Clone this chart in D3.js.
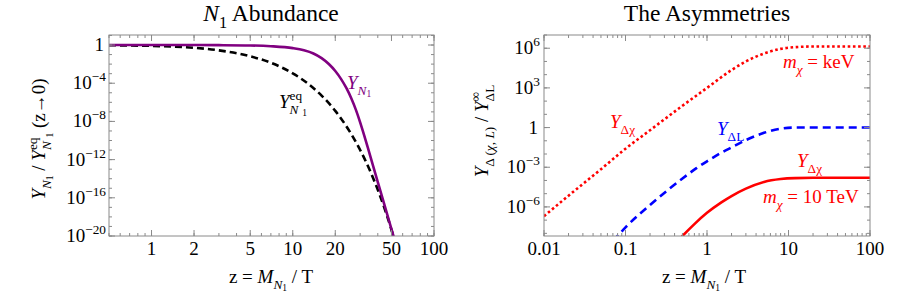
<!DOCTYPE html>
<html>
<head>
<meta charset="utf-8">
<script src="https://cdn.jsdelivr.net/npm/d3@7"></script>
<style>
  body { margin: 0; background: #fff; }
  text { font-family: "Liberation Serif", "Times New Roman", serif; white-space: pre; }
</style>
</head>
<body>
<svg id="chart" width="913" height="292"></svg>
<script>
// ---- left panel data: N1 abundance ----
var zAbund = [0.5, 1, 2, 3, 5, 7, 10, 12, 14, 16, 18, 20, 22, 24, 26, 28, 30, 32, 34, 37, 40, 44, 48, 52, 55];
var yN1 = [1, 1, 0.99, 0.97, 0.9, 0.75, 0.47, 0.28, 0.13, 0.042, 0.0102, 1.9e-3, 2.7e-4, 3e-5, 2.5e-6,
           1.6e-7, 8e-9, 3.7e-10, 1.8e-11, 2.4e-13, 4.5e-15, 3.5e-17, 4.2e-19, 7e-21, 4e-22];
var zEq = [0.5, 1, 2, 3, 5, 7, 10, 13, 16, 20, 25, 30, 35, 40, 45, 50, 55];
var yEq = [0.944, 0.812, 0.508, 0.277, 0.0664, 0.0138, 1.08e-3, 7.7e-5, 5.1e-6, 1.27e-7, 1.17e-9,
           1.02e-11, 8.6e-14, 7.1e-16, 5.6e-18, 4.4e-20, 3.4e-22];
var leftXTicks = [1, 2, 5, 10, 20, 50, 100];
var leftYTicks = [0, -4, -8, -12, -16, -20];   // powers of ten

// ---- right panel data: asymmetries (log10 values) ----
var zKeV = [0.01, 0.02, 0.05, 0.1, 0.2, 0.5, 1, 2, 3, 5, 8, 12, 20, 100];
var logKeV = [-6.7, -5.15, -3.15, -1.6, -0.2, 1.65, 3.0, 4.35, 5.0, 5.6, 5.95, 6.08, 6.13, 6.13];
var zDL = [0.07, 0.1, 0.2, 0.35, 0.5, 0.75, 1, 1.5, 2, 3, 5, 8, 12, 100];
var logDL = [-8.6, -7.55, -5.85, -4.6, -3.85, -3.05, -2.55, -1.9, -1.5, -0.95, -0.4, -0.08, 0, 0];
var zTeV = [0.45, 0.5, 0.7, 1, 1.5, 2, 3, 5, 8, 12, 20, 100];
var logTeV = [-8.5, -8.2, -7.3, -6.45, -5.66, -5.18, -4.62, -4.11, -3.89, -3.82, -3.8, -3.8];
var rightXTicks = [0.01, 0.1, 1, 10, 100];
var rightXLabels = ["0.01", "0.1", "1", "10", "100"];
var rightYTicks = [6, 3, 0, -3, -6];

var svg = d3.select("#chart");
var frameCol = "#8a8a8a";
var fs = 19;

// rich text: pieces laid out one after another, sub/sup shifted
function rich(g, x, y, pieces, opt) {
  opt = opt || {};
  var size = opt.size || fs;
  var grp = g.append("g").attr("fill", opt.color || "#000");
  var cx = 0, lastX = 0;
  pieces.forEach(function(p) {
    var sz = size, dy = 0;
    if (p.s === "sub") { sz = size * 0.7; dy = size * 0.3; }
    if (p.s === "sup") { sz = size * 0.7; dy = -size * 0.42; }
    if (p.s === "sub2") { sz = size * 0.5; dy = size * 0.4; }
    var px = p.st ? lastX : cx;
    var t = grp.append("text")
      .attr("x", px).attr("y", dy)
      .attr("font-size", sz)
      .attr("font-style", p.i ? "italic" : "normal")
      .text(p.t);
    var w = t.node().getComputedTextLength();
    lastX = px;
    cx = Math.max(cx, px + w);
  });
  var shift = opt.anchor === "middle" ? -cx / 2 : opt.anchor === "end" ? -cx : 0;
  grp.selectAll("text").attr("x", function() { return +d3.select(this).attr("x") + shift; });
  grp.attr("transform", "translate(" + x + "," + y + ")" + (opt.rotate ? " rotate(" + opt.rotate + ")" : ""));
  return grp;
}

function minorTicks(lo, hi) {
  var out = [];
  for (var e = Math.floor(Math.log10(lo)); e <= Math.ceil(Math.log10(hi)); e++) {
    for (var k = 1; k < 10; k++) {
      var v = k * Math.pow(10, e);
      if (v >= lo * 0.999 && v <= hi * 1.001) out.push(v);
    }
  }
  return out;
}

function frame(g, x, y) {
  var r = x.range(), h = y.range();
  g.append("rect")
    .attr("x", r[0]).attr("y", h[1])
    .attr("width", r[1] - r[0]).attr("height", h[0] - h[1])
    .attr("fill", "none").attr("stroke", frameCol).attr("stroke-width", 1);
}

function xTicks(g, x, y, major, minor) {
  var h = y.range();
  var all = minor.map(function(v) { return {v: v, len: 3}; })
    .concat(major.map(function(v) { return {v: v, len: 6}; }));
  all.forEach(function(t) {
    var px = x(t.v);
    g.append("line").attr("x1", px).attr("x2", px).attr("y1", h[0]).attr("y2", h[0] - t.len)
      .attr("stroke", frameCol);
    g.append("line").attr("x1", px).attr("x2", px).attr("y1", h[1]).attr("y2", h[1] + t.len)
      .attr("stroke", frameCol);
  });
}

function yTicks(g, x, y, major, minor) {
  var r = x.range();
  var all = minor.map(function(v) { return {v: v, len: 3}; })
    .concat(major.map(function(v) { return {v: v, len: 6}; }));
  all.forEach(function(t) {
    var py = y(t.v);
    g.append("line").attr("y1", py).attr("y2", py).attr("x1", r[0]).attr("x2", r[0] + t.len)
      .attr("stroke", frameCol);
    g.append("line").attr("y1", py).attr("y2", py).attr("x1", r[1]).attr("x2", r[1] - t.len)
      .attr("stroke", frameCol);
  });
}

function powLabel(g, px, py, e) {
  if (e === 0) {
    g.append("text").attr("x", px - 2).attr("y", py).attr("text-anchor", "end")
      .attr("font-size", fs).text("1");
  } else {
    rich(g, px, py, [{t: "10"}, {t: e < 0 ? "\u2212" + (-e) : String(e), s: "sup"}], {anchor: "end"});
  }
}

var xLabel = [{t: "z = "}, {t: "M", i: true}, {t: "N", i: true, s: "sub"}, {t: "1", s: "sub2"}, {t: " / T"}];

// ================= left panel =================
var xL = d3.scaleLog().domain([0.5, 100]).range([109, 434]);
var yL = d3.scaleLog().domain([1e-20, Math.pow(10, 1.05)]).range([236, 35]);
var gL = svg.append("g");

gL.append("clipPath").attr("id", "clipL").append("rect")
  .attr("x", 109).attr("y", 35).attr("width", 325).attr("height", 201);

var lineL = d3.line().curve(d3.curveMonotoneX)
  .x(function(d) { return xL(d[0]); }).y(function(d) { return yL(d[1]); });

gL.append("path").datum(d3.zip(zEq, yEq))
  .attr("d", lineL).attr("fill", "none").attr("stroke", "#000")
  .attr("stroke-width", 2.6).attr("stroke-dasharray", "7,4")
  .attr("clip-path", "url(#clipL)");
gL.append("path").datum(d3.zip(zAbund, yN1))
  .attr("d", lineL).attr("fill", "none").attr("stroke", "#800080")
  .attr("stroke-width", 2.6).attr("clip-path", "url(#clipL)");

frame(gL, xL, yL);
var yMinorL = d3.range(-20, 2).map(function(e) { return Math.pow(10, e); });
xTicks(gL, xL, yL, leftXTicks, minorTicks(0.5, 100));
yTicks(gL, xL, yL, leftYTicks.map(function(e) { return Math.pow(10, e); }), yMinorL);

leftXTicks.forEach(function(v) {
  gL.append("text").attr("x", xL(v)).attr("y", 255).attr("text-anchor", "middle")
    .attr("font-size", fs).text(v);
});
leftYTicks.forEach(function(e) { powLabel(gL, 106, yL(Math.pow(10, e)) + 6, e); });

rich(gL, 271, 21, [{t: "N", i: true}, {t: "1", s: "sub"}, {t: " Abundance"}], {anchor: "middle", size: 23.5});
rich(gL, 271, 283, xLabel, {anchor: "middle"});
rich(gL, 45, 139, [{t: "Y", i: true}, {t: "N", i: true, s: "sub"}, {t: "1", s: "sub2"}, {t: " / "}, {t: "Y", i: true},
  {t: "eq", s: "sup"}, {t: "N", i: true, s: "sub", st: true}, {t: "1", s: "sub2"}, {t: " (z\u21920)"}], {anchor: "middle", rotate: -90});

rich(gL, 347, 89, [{t: "Y", i: true}, {t: "N", i: true, s: "sub"}, {t: "1", s: "sub2"}], {color: "#800080"});
rich(gL, 279, 108, [{t: "Y", i: true}, {t: "eq", s: "sup"}, {t: "N", i: true, s: "sub", st: true}, {t: "1", s: "sub2"}], {});

// ================= right panel =================
var xR = d3.scaleLog().domain([0.01, 100]).range([544, 870]);
var yR = d3.scaleLinear().domain([-8.2, 7.0]).range([236, 35]);   // log10 units
var gR = svg.append("g");

gR.append("clipPath").attr("id", "clipR").append("rect")
  .attr("x", 544).attr("y", 35).attr("width", 326).attr("height", 201);

var lineR = d3.line().curve(d3.curveMonotoneX)
  .x(function(d) { return xR(d[0]); }).y(function(d) { return yR(d[1]); });

gR.append("path").datum(d3.zip(zKeV, logKeV))
  .attr("d", lineR).attr("fill", "none").attr("stroke", "#ff0000")
  .attr("stroke-width", 2.6).attr("stroke-dasharray", "2.6,2.6")
  .attr("clip-path", "url(#clipR)");
gR.append("path").datum(d3.zip(zDL, logDL))
  .attr("d", lineR).attr("fill", "none").attr("stroke", "#0000ff")
  .attr("stroke-width", 2.6).attr("stroke-dasharray", "8,5")
  .attr("clip-path", "url(#clipR)");
gR.append("path").datum(d3.zip(zTeV, logTeV))
  .attr("d", lineR).attr("fill", "none").attr("stroke", "#ff0000")
  .attr("stroke-width", 2.6).attr("clip-path", "url(#clipR)");

frame(gR, xR, yR);
xTicks(gR, xR, yR, rightXTicks, minorTicks(0.01, 100));
yTicks(gR, xR, yR, rightYTicks, d3.range(-8, 8));

rightXTicks.forEach(function(v, i) {
  gR.append("text").attr("x", xR(v)).attr("y", 255).attr("text-anchor", "middle")
    .attr("font-size", fs).text(rightXLabels[i]);
});
rightYTicks.forEach(function(e) { powLabel(gR, 540, yR(e) + 6, e); });

rich(gR, 707, 21, [{t: "The Asymmetries"}], {anchor: "middle", size: 23.5});
rich(gR, 704, 283, xLabel, {anchor: "middle"});
rich(gR, 488, 131, [{t: "Y", i: true}, {t: "\u0394 (", s: "sub"}, {t: "\u03c7", i: true, s: "sub"}, {t: ", ", s: "sub"},
  {t: "L", i: true, s: "sub"}, {t: ")", s: "sub"}, {t: " / "}, {t: "Y", i: true},
  {t: "\u221e", s: "sup"}, {t: "\u0394L", s: "sub", st: true}], {anchor: "middle", rotate: -90});

rich(gR, 783, 68, [{t: "m", i: true}, {t: "\u03c7", i: true, s: "sub"}, {t: " = keV"}], {color: "#ff0000"});
rich(gR, 610, 128, [{t: "Y", i: true}, {t: "\u0394\u03c7", s: "sub"}], {color: "#ff0000"});
rich(gR, 717, 135, [{t: "Y", i: true}, {t: "\u0394L", s: "sub"}], {color: "#0000ff"});
rich(gR, 797, 167, [{t: "Y", i: true}, {t: "\u0394\u03c7", s: "sub"}], {color: "#ff0000"});
rich(gR, 763, 203, [{t: "m", i: true}, {t: "\u03c7", i: true, s: "sub"}, {t: " = 10 TeV"}], {color: "#ff0000"});
</script>
</body>
</html>
